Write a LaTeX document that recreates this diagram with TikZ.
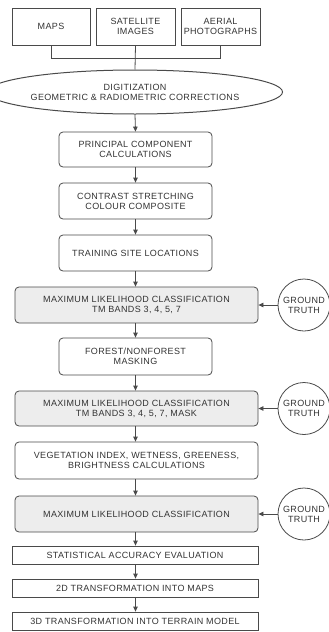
\documentclass[tikz,border=0pt]{standalone}
\usepackage{fontspec}
\setmainfont[LetterSpace=4]{Liberation Sans}
\usetikzlibrary{shapes.geometric,arrows.meta}
\definecolor{ln}{HTML}{4A4A4A}
\definecolor{tx}{HTML}{333333}
\definecolor{gf}{HTML}{EDEDED}
\begin{document}
\begin{tikzpicture}[x=1pt,y=-1pt,
  every node/.style={font=\fontsize{9}{10}\selectfont, text=tx, align=center, inner sep=0pt},
  sq/.style={draw=ln, line width=0.8pt, rectangle},
  rbox/.style={draw=ln, line width=0.8pt, rectangle, rounded corners=4pt},
  gbox/.style={rbox, fill=gf},
  gt/.style={draw=ln, line width=0.8pt, circle, minimum size=52pt},
  ar/.style={draw=ln, line width=0.8pt, -{Triangle[length=5pt,width=4.5pt]}},
  ln/.style={draw=ln, line width=0.8pt}]
\useasboundingbox (0,0) rectangle (329,632);
% top sources
\node[sq, minimum width=78pt, minimum height=37pt] (maps) at (51,26.5) {MAPS};
\node[sq, minimum width=79pt, minimum height=37pt] (sat) at (135.5,26.5) {SATELLITE\\IMAGES};
\node[sq, minimum width=79pt, minimum height=37pt] (aer) at (220.5,26.5) {AERIAL\\PHOTOGRAPHS};
% ellipse
\node[ellipse, draw=ln, line width=1pt, minimum width=244pt, minimum height=44pt] (dig) at (135,92) {DIGITIZATION\\GEOMETRIC \& RADIOMETRIC CORRECTIONS};
% chain
\node[rbox, minimum width=153pt, minimum height=35pt] (pca) at (135.5,149.5) {PRINCIPAL COMPONENT\\CALCULATIONS};
\node[rbox, minimum width=153pt, minimum height=36pt] (con) at (135.5,201) {CONTRAST STRETCHING\\COLOUR COMPOSITE};
\node[rbox, minimum width=153pt, minimum height=36pt] (trn) at (135.5,253) {TRAINING SITE LOCATIONS};
\node[gbox, minimum width=243pt, minimum height=36pt] (ml1) at (136.5,305) {MAXIMUM LIKELIHOOD CLASSIFICATION\\TM BANDS 3, 4, 5, 7};
\node[rbox, minimum width=153pt, minimum height=37pt] (for) at (135.5,356.5) {FOREST/NONFOREST\\MASKING};
\node[gbox, minimum width=243pt, minimum height=35pt] (ml2) at (136.5,408.5) {MAXIMUM LIKELIHOOD CLASSIFICATION\\TM BANDS 3, 4, 5, 7, MASK};
\node[rbox, minimum width=243pt, minimum height=37pt] (veg) at (136.5,460.5) {VEGETATION INDEX, WETNESS, GREENESS,\\BRIGHTNESS CALCULATIONS};
\node[gbox, minimum width=243pt, minimum height=36pt] (ml3) at (136.5,514) {MAXIMUM LIKELIHOOD CLASSIFICATION};
\node[sq, minimum width=246pt, minimum height=18pt] (sta) at (135,555) {STATISTICAL ACCURACY EVALUATION};
\node[sq, minimum width=246pt, minimum height=18pt] (twd) at (135,588) {2D TRANSFORMATION INTO MAPS};
\node[sq, minimum width=246pt, minimum height=18pt] (thd) at (135,621) {3D TRANSFORMATION INTO TERRAIN MODEL};
% ground truth
\node[gt] (g1) at (304,305) {GROUND\\TRUTH};
\node[gt] (g2) at (304,408.5) {GROUND\\TRUTH};
\node[gt] (g3) at (304,514) {GROUND\\TRUTH};
% source connectors
\coordinate (j) at (135.5,58);
\draw[ln] (maps.south) -- (maps.south |- j) -- (aer.south |- j) -- (aer.south);
\draw[ln] (sat.south) -- (dig.north);
% arrows
\draw[ar] (dig.south) -- (pca.north);
\draw[ar] (pca) -- (con);
\draw[ar] (con) -- (trn);
\draw[ar] (trn.south) -- (trn.south |- ml1.north);
\draw[ar] (for.north |- ml1.south) -- (for.north);
\draw[ar] (for.south) -- (for.south |- ml2.north);
\draw[ar] (for.south |- ml2.south) -- (for.south |- veg.north);
\draw[ar] (for.south |- veg.south) -- (for.south |- ml3.north);
\draw[ar] (for.south |- ml3.south) -- (for.south |- sta.north);
\draw[ar] (for.south |- sta.south) -- (for.south |- twd.north);
\draw[ar] (for.south |- twd.south) -- (for.south |- thd.north);
\draw[ar] (g1) -- (ml1);
\draw[ar] (g2) -- (ml2);
\draw[ar] (g3) -- (ml3);
\end{tikzpicture}
\end{document}
